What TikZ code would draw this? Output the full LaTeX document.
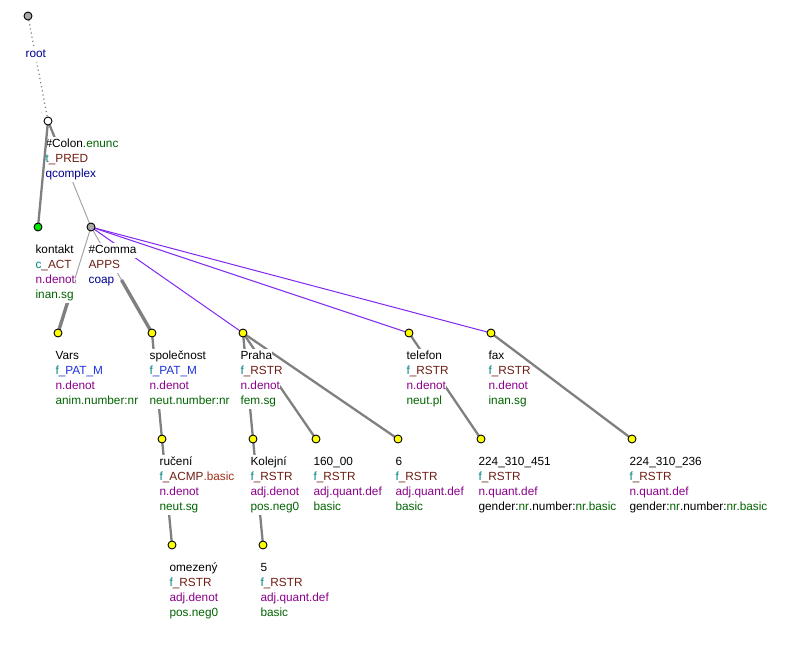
\documentclass[tikz,border=0pt]{standalone}
\usepackage{fontspec}
\setmainfont{Liberation Sans}
\usetikzlibrary{calc}
\pgfdeclarelayer{edges}
\pgfdeclarelayer{top}
\pgfsetlayers{edges,main,top}
\definecolor{cNavy}{RGB}{0,0,139}
\definecolor{cTeal}{RGB}{0,128,128}
\definecolor{cBrown}{RGB}{110,30,20}
\definecolor{cBlue}{RGB}{30,50,220}
\definecolor{cPurple}{RGB}{139,0,139}
\definecolor{cGreen}{RGB}{0,100,0}
\definecolor{cRed}{RGB}{160,50,30}
\definecolor{cEdge}{RGB}{128,128,128}
\definecolor{cThin}{RGB}{165,165,165}
\definecolor{cViolet}{RGB}{128,40,240}
\definecolor{cYellow}{RGB}{255,255,0}
\definecolor{cLime}{RGB}{0,230,0}
\definecolor{cGrayFill}{RGB}{170,170,170}
\tikzset{
  tnode/.style={circle,draw=black,line width=0.9pt,minimum size=8pt,inner sep=0pt},
  tl/.style={anchor=base west,fill=white,inner xsep=0pt,inner ysep=0pt,
    text height=10.5pt,text depth=4.5pt,font=\fontsize{11.8}{14}\selectfont},
  heavyE/.style={draw=cEdge,line width=2.3pt},
  memberE/.style={draw=cEdge,line width=3.4pt},
  thinE/.style={draw=cThin,line width=1pt},
  violetE/.style={draw=cViolet,line width=1pt},
  dotE/.style={draw=cEdge,line width=1.2pt,dash pattern=on 1.2pt off 3pt},
}
\newcommand\tln[3]{\node[tl] (#1-l#2) at ($(#1)+(-2.6,{11.5+15*#2})$) {#3};}
\newcommand\ftr[2]{\textcolor{cTeal}{#1}\textcolor{cBrown}{#2}}
\begin{document}
\begin{tikzpicture}[x=1pt,y=-1pt]
\useasboundingbox (0,0) rectangle (796,654);
% tree nodes (drawn on the top layer)
\begin{pgfonlayer}{top}
\node[tnode,fill=cGrayFill] (root) at (28,16) {};
\node[tnode,fill=white] (colon) at (48,121) {};
\node[tnode,fill=cLime] (kontakt) at (38,227) {};
\node[tnode,fill=cGrayFill] (comma) at (91,227) {};
\node[tnode,fill=cYellow] (vars) at (58,333) {};
\node[tnode,fill=cYellow] (spol) at (152,333) {};
\node[tnode,fill=cYellow] (praha) at (243,333) {};
\node[tnode,fill=cYellow] (telefon) at (409,333) {};
\node[tnode,fill=cYellow] (fax) at (491,333) {};
\node[tnode,fill=cYellow] (ruceni) at (162,439) {};
\node[tnode,fill=cYellow] (kolejni) at (253,439) {};
\node[tnode,fill=cYellow] (psc) at (316,439) {};
\node[tnode,fill=cYellow] (six) at (398,439) {};
\node[tnode,fill=cYellow] (tel) at (481,439) {};
\node[tnode,fill=cYellow] (faxn) at (632,439) {};
\node[tnode,fill=cYellow] (omezeny) at (172,545) {};
\node[tnode,fill=cYellow] (five) at (263,545) {};
\end{pgfonlayer}
% edges (under the labels)
\begin{pgfonlayer}{edges}
\draw[dotE] (root.center) -- (colon.center);
\draw[heavyE] (colon.center) -- ($(colon)!.5!(comma)$) coordinate (m1);
\draw[thinE] (m1) -- (comma.center);
\draw[thinE] (comma.center) -- ($(comma)!.5!(vars)$) coordinate (m2);
\draw[memberE] (m2) -- (vars.center);
\draw[thinE] (comma.center) -- ($(comma)!.5!(spol)$) coordinate (m3);
\draw[memberE] (m3) -- (spol.center);
\draw[violetE] (comma.center) -- (praha.center);
\draw[violetE] (comma.center) -- (telefon.center);
\draw[violetE] (comma.center) -- (fax.center);
\draw[heavyE] (spol.center) -- (ruceni.center);
\draw[heavyE] (ruceni.center) -- (omezeny.center);
\draw[heavyE] (praha.center) -- (kolejni.center);
\draw[heavyE] (praha.center) -- (psc.center);
\draw[heavyE] (praha.center) -- (six.center);
\draw[heavyE] (kolejni.center) -- (five.center);
\draw[heavyE] (telefon.center) -- (tel.center);
\draw[heavyE] (fax.center) -- (faxn.center);
\end{pgfonlayer}
% labels
\tln{root}{2}{\textcolor{cNavy}{root}}
\tln{colon}{1}{\#Colon\textcolor{cGreen}{.enunc}}
\tln{colon}{2}{\ftr{t}{\_PRED}}
\tln{colon}{3}{\textcolor{cNavy}{qcomplex}}
\tln{kontakt}{1}{kontakt}
\tln{kontakt}{2}{\ftr{c}{\_ACT}}
\tln{kontakt}{3}{\textcolor{cPurple}{n.denot}}
\tln{kontakt}{4}{\textcolor{cGreen}{inan.sg}}
\tln{comma}{1}{\#Comma}
\tln{comma}{2}{\textcolor{cBrown}{APPS}}
\tln{comma}{3}{\textcolor{cNavy}{coap}}
\tln{vars}{1}{Vars}
\tln{vars}{2}{\textcolor{cTeal}{f}\textcolor{cBlue}{\_PAT\_M}}
\tln{vars}{3}{\textcolor{cPurple}{n.denot}}
\tln{vars}{4}{\textcolor{cGreen}{anim.number:nr}}
\tln{spol}{1}{společnost}
\tln{spol}{2}{\textcolor{cTeal}{f}\textcolor{cBlue}{\_PAT\_M}}
\tln{spol}{3}{\textcolor{cPurple}{n.denot}}
\tln{spol}{4}{\textcolor{cGreen}{neut.number:nr}}
\tln{praha}{1}{Praha}
\tln{praha}{2}{\ftr{f}{\_RSTR}}
\tln{praha}{3}{\textcolor{cPurple}{n.denot}}
\tln{praha}{4}{\textcolor{cGreen}{fem.sg}}
\tln{telefon}{1}{telefon}
\tln{telefon}{2}{\ftr{f}{\_RSTR}}
\tln{telefon}{3}{\textcolor{cPurple}{n.denot}}
\tln{telefon}{4}{\textcolor{cGreen}{neut.pl}}
\tln{fax}{1}{fax}
\tln{fax}{2}{\ftr{f}{\_RSTR}}
\tln{fax}{3}{\textcolor{cPurple}{n.denot}}
\tln{fax}{4}{\textcolor{cGreen}{inan.sg}}
\tln{ruceni}{1}{ručení}
\tln{ruceni}{2}{\ftr{f}{\_ACMP}\textcolor{cRed}{.basic}}
\tln{ruceni}{3}{\textcolor{cPurple}{n.denot}}
\tln{ruceni}{4}{\textcolor{cGreen}{neut.sg}}
\tln{kolejni}{1}{Kolejní}
\tln{kolejni}{2}{\ftr{f}{\_RSTR}}
\tln{kolejni}{3}{\textcolor{cPurple}{adj.denot}}
\tln{kolejni}{4}{\textcolor{cGreen}{pos.neg0}}
\tln{psc}{1}{160\_00}
\tln{psc}{2}{\ftr{f}{\_RSTR}}
\tln{psc}{3}{\textcolor{cPurple}{adj.quant.def}}
\tln{psc}{4}{\textcolor{cGreen}{basic}}
\tln{six}{1}{6}
\tln{six}{2}{\ftr{f}{\_RSTR}}
\tln{six}{3}{\textcolor{cPurple}{adj.quant.def}}
\tln{six}{4}{\textcolor{cGreen}{basic}}
\tln{tel}{1}{224\_310\_451}
\tln{tel}{2}{\ftr{f}{\_RSTR}}
\tln{tel}{3}{\textcolor{cPurple}{n.quant.def}}
\tln{tel}{4}{gender:\textcolor{cGreen}{nr}.number:\textcolor{cGreen}{nr.basic}}
\tln{faxn}{1}{224\_310\_236}
\tln{faxn}{2}{\ftr{f}{\_RSTR}}
\tln{faxn}{3}{\textcolor{cPurple}{n.quant.def}}
\tln{faxn}{4}{gender:\textcolor{cGreen}{nr}.number:\textcolor{cGreen}{nr.basic}}
\tln{omezeny}{1}{omezený}
\tln{omezeny}{2}{\ftr{f}{\_RSTR}}
\tln{omezeny}{3}{\textcolor{cPurple}{adj.denot}}
\tln{omezeny}{4}{\textcolor{cGreen}{pos.neg0}}
\tln{five}{1}{5}
\tln{five}{2}{\ftr{f}{\_RSTR}}
\tln{five}{3}{\textcolor{cPurple}{adj.quant.def}}
\tln{five}{4}{\textcolor{cGreen}{basic}}
% this edge runs over its parent's label, as in the reference
\draw[heavyE] (colon.center) -- (kontakt.center);
\end{tikzpicture}
\end{document}
